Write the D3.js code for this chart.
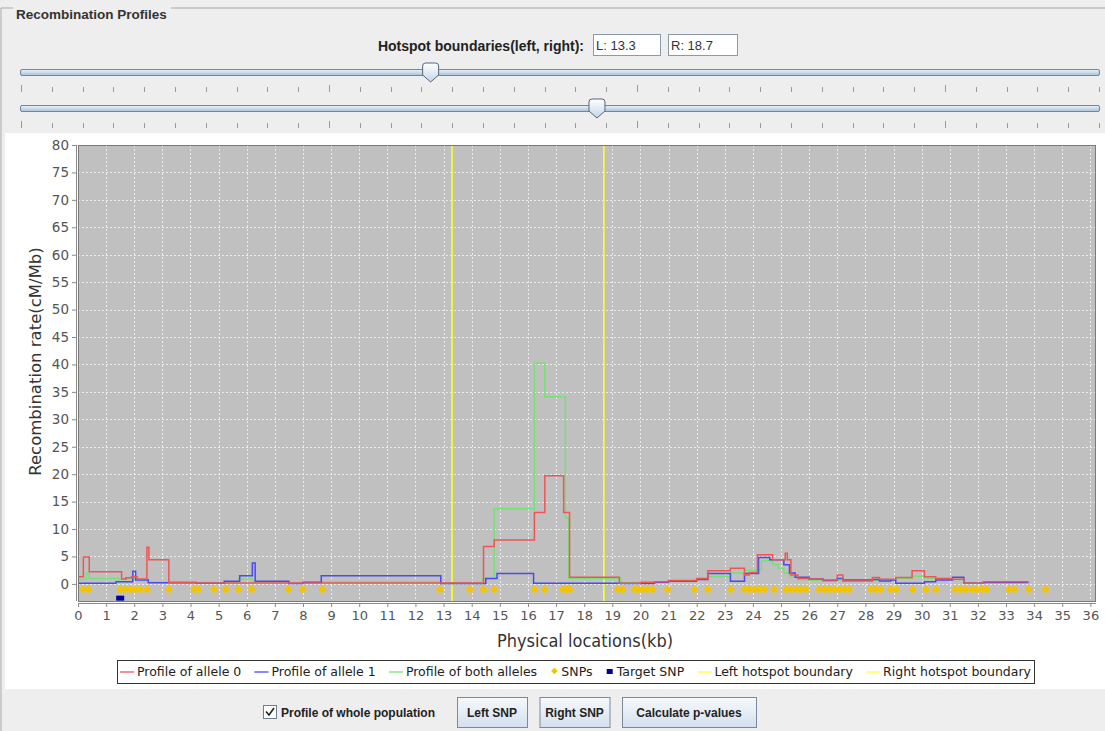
<!DOCTYPE html>
<html>
<head>
<meta charset="utf-8">
<script src="https://cdn.jsdelivr.net/npm/d3@7"></script>
<style>
body{margin:0;background:#eeeeee;overflow:hidden;}
svg{display:block;}
</style>
</head>
<body>
<script>
//step profiles: [start kb, rate]
var allele0 = [[0,1.3],[0.19,4.9],[0.4,2.2],[1.55,0.9],[1.7,1.1],[1.9,1.3],[2.1,0.9],[2.45,6.7],[2.52,4.4],[3.23,0.3],[4.2,0.15],
  [14.42,6.8],[14.8,8.0],[16.23,13.0],[16.6,19.7],[17.27,13.0],[17.48,1.2],[19.25,0.1],[20.0,0.3],[20.5,0.4],[21.0,0.6],
  [22.0,1.0],[22.4,2.4],[23.2,2.85],[23.7,1.6],[23.87,2.1],[24.16,5.3],[24.7,4.4],[25.15,5.6],[25.22,4.4],[25.35,1.6],
  [25.6,1.0],[26.0,0.9],[26.5,0.7],[27.0,1.6],[27.2,0.55],[28.25,1.15],[28.5,0.85],[29.08,1.15],[29.66,2.4],[30.1,1.3],
  [30.5,1.0],[31.1,0.85],[31.5,0.1],[32.2,0.4]];
var allele1 = [[0,0.1],[1.35,0.4],[1.95,2.3],[2.05,0.7],[2.5,0.2],[4.2,0.1],[5.2,0.5],[5.75,1.5],[6.2,3.8],[6.3,0.5],
  [7.5,0.05],[8.0,0.3],[8.65,1.5],[12.9,0.05],[14.5,1.0],[14.9,1.9],[16.2,0.1],[19.3,0.05],[20.5,0.3],[21.0,0.5],
  [22.0,0.8],[22.4,1.9],[23.2,0.5],[23.7,1.9],[24.2,4.8],[24.6,4.4],[25.1,3.5],[25.3,2.0],[25.5,1.2],[26.0,0.9],
  [26.5,0.6],[27.0,1.0],[27.2,0.7],[28.25,0.8],[28.5,0.55],[28.9,0.7],[29.08,0.1],[30.1,0.4],[30.5,0.7],[31.1,1.2],
  [31.5,0.1],[32.2,0.25]];
var bothAlleles = [[0,0.8],[0.3,2.0],[0.4,1.0],[1.45,0.3],[1.7,0.9],[2.3,0.6],[2.5,0.3],[3.23,0.2],[5.7,0.9],[6.2,0.4],
  [7.5,0.1],[8.65,0.4],[12.9,0.05],[14.4,1.0],[14.8,13.7],[16.23,40.2],[16.6,34.1],[17.33,12.0],[17.45,1.0],[19.3,0.2],
  [21.0,0.5],[22.0,1.0],[22.4,1.3],[23.2,2.0],[23.7,2.5],[24.3,4.2],[24.7,3.5],[24.9,2.8],[25.1,2.0],[25.3,1.2],
  [25.6,0.8],[26.0,0.6],[27.0,0.7],[28.25,0.6],[29.08,1.0],[29.66,1.4],[30.1,1.0],[31.1,0.8],[31.5,0.15],[32.2,0.35]];
var profileEnd = 33.8;

var snpPositions = [0.19,0.37,1.49,1.67,1.85,2.02,2.2,2.46,3.23,4.12,4.27,4.83,5.25,5.69,6.17,7.47,8.0,8.68,12.86,
  13.93,14.42,14.8,16.23,16.6,17.24,17.36,17.48,19.19,19.37,19.79,19.9,20.07,20.25,20.43,20.96,21.92,22.39,23.22,
  23.69,23.87,24.05,24.23,24.4,24.76,25.17,25.35,25.53,25.7,25.88,26.36,26.54,26.72,26.9,27.07,27.25,27.42,
  28.19,28.37,28.55,28.9,29.08,29.67,30.15,30.5,31.2,31.4,31.57,31.8,31.97,32.15,32.3,33.1,33.3,33.8,34.4];
var snpLevel = -1.0;
var targetSnp = [1.5, -2.6];
var hotspotBounds = [13.3, 18.7];

var xTicks = [0,1,2,3,4,5,6,7,8,9,10,11,12,13,14,15,16,17,18,19,20,21,22,23,24,25,26,27,28,29,30,31,32,33,34,35,36];
var yTicks = [0,5,10,15,20,25,30,35,40,45,50,55,60,65,70,75,80];
var sliderTicks = [0,1,2,3,4,5,6,7,8,9,10,11,12,13,14,15,16,17,18,19,20,21,22,23,24,25,26,27,28,29,30,31,32,33,34,35];

var legendItems = [
  {label:"Profile of allele 0", kind:"line", color:"#ee5555"},
  {label:"Profile of allele 1", kind:"line", color:"#4a4af0"},
  {label:"Profile of both alleles", kind:"line", color:"#77e077"},
  {label:"SNPs", kind:"diamond", color:"#f5c400"},
  {label:"Target SNP", kind:"square", color:"#000099"},
  {label:"Left hotspot boundary", kind:"line", color:"#ffff33"},
  {label:"Right hotspot boundary", kind:"line", color:"#ffff33"}
];
var buttonLabels = ["Left SNP", "Right SNP", "Calculate p-values"];

window.onload = draw();

function draw(){
    var width = 1105, height = 731;
    var svg = d3.select("body").append("svg")
        .attr("width", width).attr("height", height)
        .style("font-family", "'Liberation Sans', Arial, sans-serif");

    var defs = svg.append("defs");
    var g1 = defs.append("linearGradient").attr("id","trackGrad").attr("x1",0).attr("y1",0).attr("x2",0).attr("y2",1);
    g1.append("stop").attr("offset","0%").attr("stop-color","#eef3f9");
    g1.append("stop").attr("offset","100%").attr("stop-color","#a9c1da");
    var g2 = defs.append("linearGradient").attr("id","thumbGrad").attr("x1",0).attr("y1",0).attr("x2",0).attr("y2",1);
    g2.append("stop").attr("offset","0%").attr("stop-color","#ffffff");
    g2.append("stop").attr("offset","100%").attr("stop-color","#c4d5e6");
    var g3 = defs.append("linearGradient").attr("id","btnGrad").attr("x1",0).attr("y1",0).attr("x2",0).attr("y2",1);
    g3.append("stop").attr("offset","0%").attr("stop-color","#f6f9fc");
    g3.append("stop").attr("offset","100%").attr("stop-color","#d3e0ee");

    //panel frame
    svg.append("rect").attr("x",0).attr("y",0).attr("width",width).attr("height",height).attr("fill","#eeeeee");
    svg.append("rect").attr("x",5).attr("y",133).attr("width",width-5).attr("height",556).attr("fill","#ffffff");
    svg.append("path").attr("d","M1,731 V8 H13 M171,8 H1105")
        .attr("fill","none").attr("stroke","#a8a8a8");
    svg.append("text").attr("x",16).attr("y",19).attr("font-size","13.5px").attr("font-weight","bold")
        .attr("fill","#333").text("Recombination Profiles");

    //hotspot boundary fields
    svg.append("text").attr("x",584).attr("y",51).attr("text-anchor","end")
        .attr("font-size","14px").attr("font-weight","bold").attr("fill","#222")
        .text("Hotspot boundaries(left, right):");
    [["L: " + hotspotBounds[0], 593, 67], ["R: " + hotspotBounds[1], 668, 69]].forEach(function(f){
        svg.append("rect").attr("x",f[1]+0.5).attr("y",34.5).attr("width",f[2]).attr("height",21)
            .attr("fill","#fff").attr("stroke","#8a9aaa");
        svg.append("text").attr("x",f[1]+3).attr("y",50).attr("font-size","13px").attr("fill","#333").text(f[0]);
    });

    //sliders
    var sx = d3.scaleLinear().domain([0,35]).range([21,1099]);
    [[69, hotspotBounds[0]], [105, hotspotBounds[1]]].forEach(function(s){
        var ty = s[0];
        svg.append("rect").attr("x",20.5).attr("y",ty+0.5).attr("width",1079).attr("height",6).attr("rx",1.5)
            .attr("fill","url(#trackGrad)").attr("stroke","#6d87a3");
        svg.append("g").selectAll("line").data(sliderTicks).enter().append("line")
            .attr("x1",function(d){ return Math.round(sx(d))+0.5; })
            .attr("x2",function(d){ return Math.round(sx(d))+0.5; })
            .attr("y1",function(d){ return d % 10 == 0 ? ty+16 : ty+18; })
            .attr("y2",ty+23)
            .attr("stroke","#9a9a9a");
        var cx = sx(s[1]);
        var top = ty - 6;
        svg.append("path")
            .attr("d","M"+(cx-8)+","+(top+3)+" q0,-3 3,-3 h10 q3,0 3,3 v9 l-8,7 l-8,-7 z")
            .attr("fill","url(#thumbGrad)").attr("stroke","#55667a");
    });

    //chart frame
    var left = 78, right = 1096, top = 145, bottom = 602;
    var x = d3.scaleLinear().domain([0,36.2]).range([left,right]);
    var y = d3.scaleLinear().domain([-3.3,80]).range([bottom,top]);

    svg.append("rect").attr("x",left).attr("y",top).attr("width",right-left).attr("height",bottom-top)
        .attr("fill","#c0c0c0");

    //gridlines
    var grid = svg.append("g").attr("stroke","#ececec").attr("stroke-dasharray","2,2").attr("stroke-width",1);
    grid.selectAll(".vg").data(xTicks.slice(1)).enter().append("line")
        .attr("x1",function(d){ return Math.round(x(d))+0.5; })
        .attr("x2",function(d){ return Math.round(x(d))+0.5; })
        .attr("y1",top).attr("y2",bottom);
    grid.selectAll(".hg").data(yTicks.slice(0,-1)).enter().append("line")
        .attr("y1",function(d){ return Math.round(y(d))+0.5; })
        .attr("y2",function(d){ return Math.round(y(d))+0.5; })
        .attr("x1",left).attr("x2",right);

    //hotspot boundaries
    svg.selectAll(".bound").data(hotspotBounds).enter().append("line")
        .attr("x1",function(d){ return x(d); }).attr("x2",function(d){ return x(d); })
        .attr("y1",top).attr("y2",bottom)
        .attr("stroke","#ffff22").attr("stroke-width",1.6);

    //profiles
    var line = d3.line()
        .x(function(d){ return x(d[0]); })
        .y(function(d){ return y(d[1]); })
        .curve(d3.curveStepAfter);
    function withEnd(arr){
        return arr.concat([[profileEnd, arr[arr.length-1][1]]]);
    }
    [[bothAlleles,"#77e077"],[allele1,"#4a4af0"],[allele0,"#ee5555"]].forEach(function(p){
        svg.append("path").datum(withEnd(p[0]))
            .attr("d", line)
            .attr("fill","none")
            .attr("stroke",p[1])
            .attr("stroke-width",1.5);
    });

    //SNPs
    var diamond = d3.symbol().type(d3.symbolSquare).size(34);
    svg.selectAll(".snp").data(snpPositions).enter().append("path")
        .attr("d", diamond)
        .attr("transform",function(d){ return "translate(" + x(d) + "," + y(snpLevel) + ") rotate(45)"; })
        .attr("fill","#f5c400");
    svg.append("rect")
        .attr("x", x(targetSnp[0]) - 4).attr("y", y(targetSnp[1]) - 2.5)
        .attr("width",8).attr("height",5).attr("fill","#000099");

    svg.append("rect").attr("x",left+0.5).attr("y",top+0.5).attr("width",right-left-1).attr("height",bottom-top-1)
        .attr("fill","none").attr("stroke","#7a7a7a");

    //axes
    var xAxis = svg.append("g").attr("transform","translate(0," + (bottom+1) + ")")
        .call(d3.axisBottom(x).tickValues(xTicks).tickSize(4).tickPadding(4).tickFormat(d3.format("d")));
    var yAxis = svg.append("g").attr("transform","translate(" + (left-2) + ",0)")
        .call(d3.axisLeft(y).tickValues(yTicks).tickSize(4).tickPadding(3));
    [xAxis, yAxis].forEach(function(a){
        a.selectAll(".tick line").attr("stroke","#8a8a8a");
        a.selectAll(".tick text").attr("fill","#555").attr("font-size","13px")
            .attr("font-family","'DejaVu Sans', sans-serif");
        a.select(".domain").attr("stroke","none");
    });
    yAxis.selectAll(".tick text").attr("font-size","13.5px");
    yAxis.append("line").attr("x1",0.5).attr("x2",0.5).attr("y1",top).attr("y2",bottom-1).attr("stroke","#8a8a8a");
    xAxis.append("line").attr("x1",left).attr("x2",right).attr("y1",0.5).attr("y2",0.5).attr("stroke","#8a8a8a");

    svg.append("text")
        .attr("transform","translate(41," + ((top + bottom) / 2 - 12) + ") rotate(-90)")
        .attr("text-anchor","middle").attr("font-size","16.5px")
        .attr("font-family","'DejaVu Sans', sans-serif").attr("fill","#333")
        .text("Recombination rate(cM/Mb)");
    svg.append("text").attr("x",585).attr("y",647).attr("text-anchor","middle")
        .attr("font-size","18px").attr("font-family","'DejaVu Sans', sans-serif")
        .attr("textLength",176).attr("lengthAdjust","spacingAndGlyphs")
        .attr("fill","#333").text("Physical locations(kb)");

    //legend
    var lx0 = 117, lx1 = 1034, ly = 660, lh = 23;
    svg.append("rect").attr("x",lx0+0.5).attr("y",ly+0.5).attr("width",lx1-lx0).attr("height",lh)
        .attr("fill","#fff").attr("stroke","#333");
    var lg = svg.append("g").attr("font-size","12.5px").attr("font-family","'DejaVu Sans', sans-serif").attr("fill","#222");
    var items = lg.selectAll(".item").data(legendItems).enter().append("g");
    items.append("text").attr("y", ly + 16).text(function(d){ return d.label; });
    var widths = [];
    items.select("text").each(function(){ widths.push(this.getComputedTextLength()); });
    var swatch = function(d){ return d.kind == "line" ? 14 : 8; };
    var used = 0;
    legendItems.forEach(function(d,i){ used += swatch(d) + 3 + widths[i]; });
    var gap = (lx1 - lx0 - 6 - used) / (legendItems.length - 1);
    var cursor = lx0 + 3;
    items.each(function(d,i){
        var g = d3.select(this);
        var cy = ly + 12;
        if (d.kind == "line"){
            g.append("line").attr("x1",cursor).attr("x2",cursor+14).attr("y1",cy).attr("y2",cy)
                .attr("stroke",d.color).attr("stroke-width",1.3);
        } else if (d.kind == "diamond"){
            g.append("path").attr("d", d3.symbol().type(d3.symbolSquare).size(22))
                .attr("transform","translate(" + (cursor+4) + "," + (cy-1) + ") rotate(45)").attr("fill",d.color);
        } else {
            g.append("rect").attr("x",cursor+1).attr("y",cy-3).attr("width",6).attr("height",5).attr("fill",d.color);
        }
        g.select("text").attr("x", cursor + swatch(d) + 3);
        cursor += swatch(d) + 3 + widths[i] + gap;
    });

    //bottom controls
    svg.append("rect").attr("x",263.5).attr("y",705.5).attr("width",13).attr("height",13)
        .attr("fill","#fff").attr("stroke","#6f7f90");
    svg.append("path").attr("d","M266,711.5 l3,3.5 l5,-7").attr("fill","none").attr("stroke","#222").attr("stroke-width",1.6);
    svg.append("text").attr("x",281).attr("y",717).attr("font-size","12px").attr("font-weight","bold")
        .attr("fill","#222").text("Profile of whole population");
    var buttonWidths = [70, 70, 134];
    var bx = 457;
    buttonLabels.forEach(function(lbl, i){
        var w = buttonWidths[i];
        var b = svg.append("g");
        b.append("rect").attr("x",bx+0.5).attr("y",697.5).attr("width",w).attr("height",30)
            .attr("fill","url(#btnGrad)").attr("stroke","#7a8a9c");
        b.append("text").attr("x", bx + w / 2).attr("y",717).attr("font-size","12px").attr("font-weight","bold")
            .attr("fill","#222").attr("text-anchor","middle").text(lbl);
        bx += w + 12.5;
    });
}
</script>
</body>
</html>
